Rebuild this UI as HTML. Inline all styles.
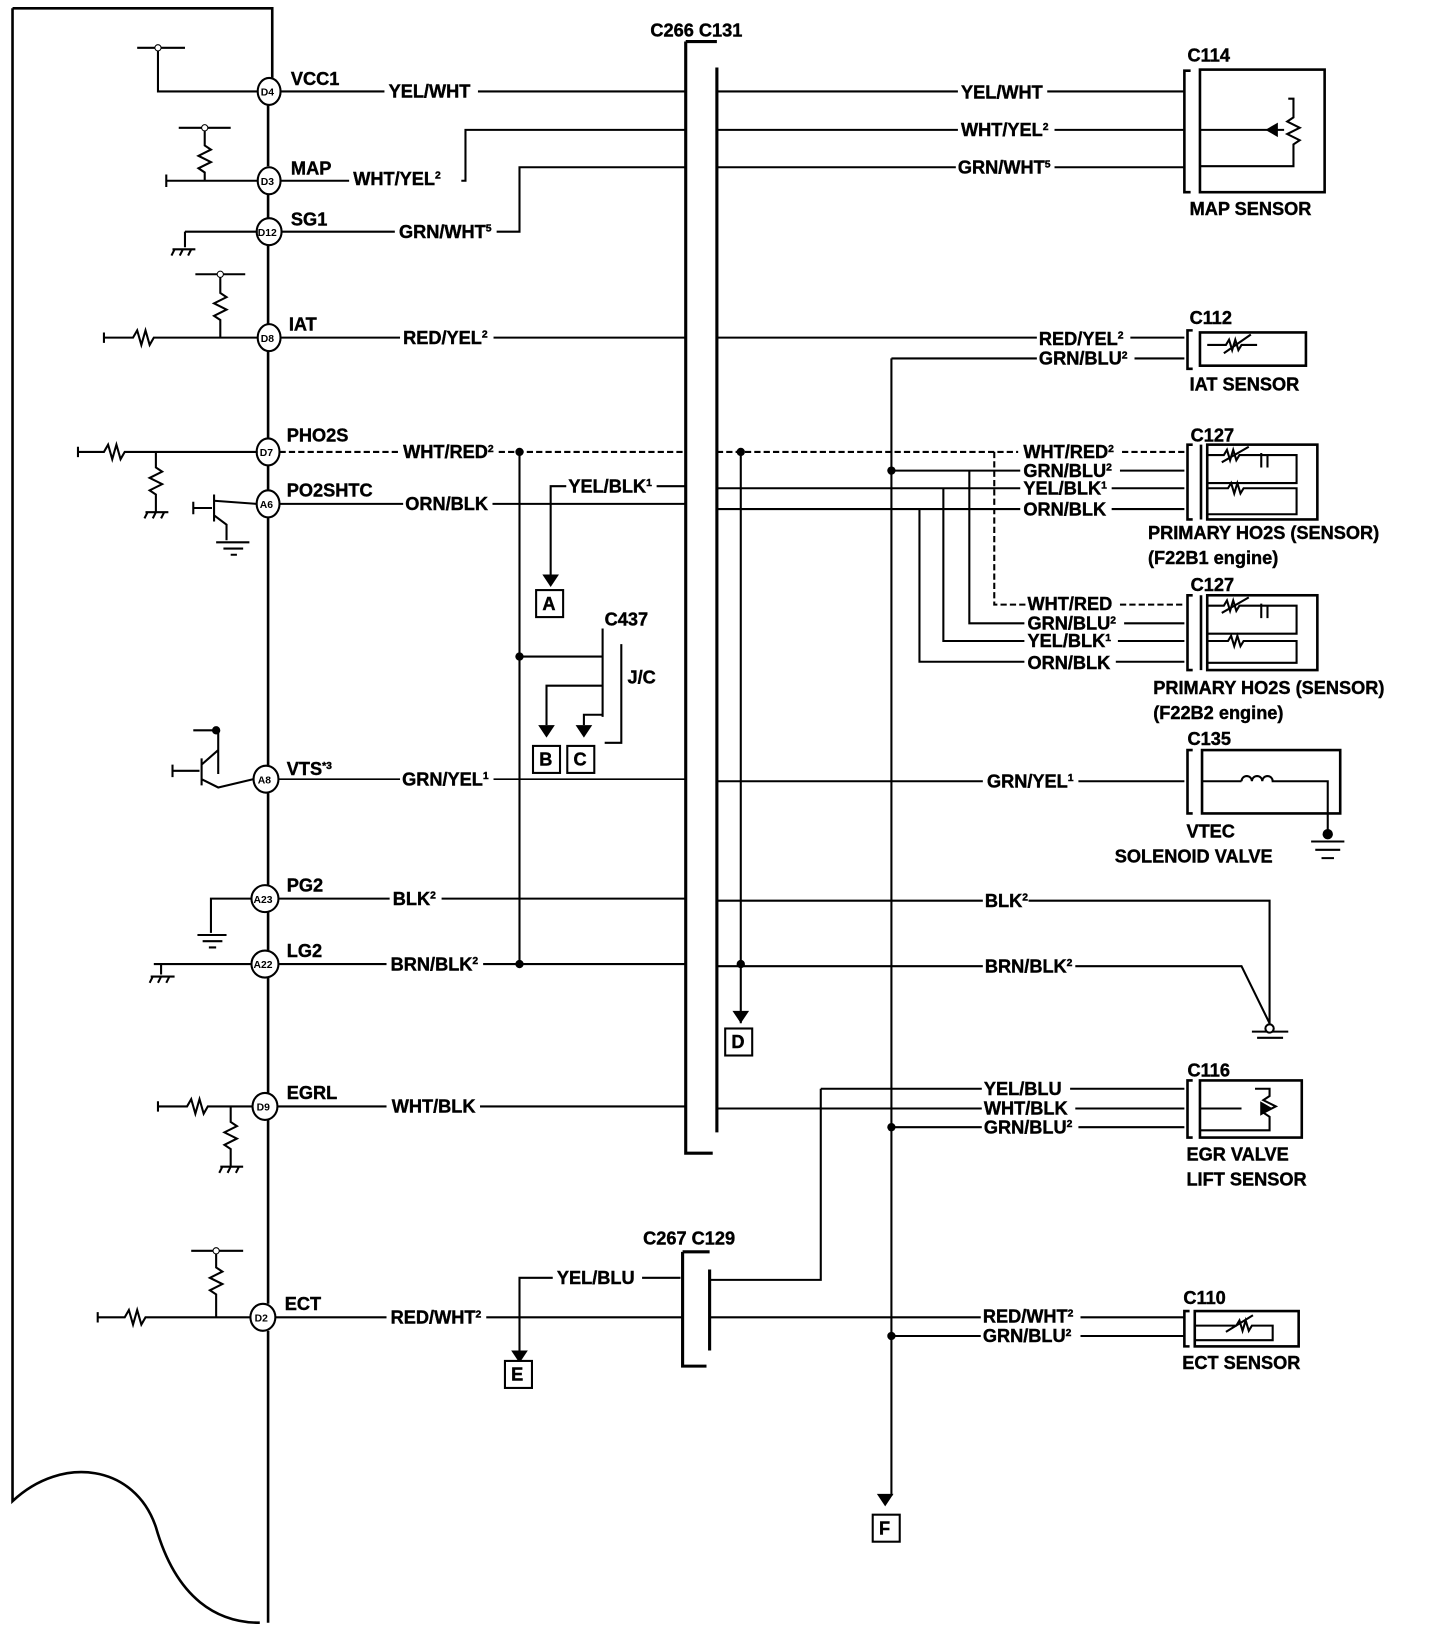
<!DOCTYPE html>
<html><head><meta charset="utf-8"><style>
html,body{margin:0;padding:0;background:#fff;}
svg{display:block;}
text{font-family:"Liberation Sans",sans-serif;font-weight:bold;font-size:17.5px;fill:#000;stroke:#000;stroke-width:0.4;}
.s{font-size:10px;}
.p{font-size:10px;font-weight:bold;stroke-width:0;}
</style></head><body>
<svg width="1440" height="1630" viewBox="0 0 1386 1569" xmlns="http://www.w3.org/2000/svg">
<g stroke="#000" fill="none" stroke-width="2">
<path d="M12 8 V1445 C60 1400 130 1410 150 1470 C170 1540 210 1562 250 1562" stroke-width="2.5"/>
<path d="M12 8 H262 V75 M258 101 V160 M258 187 V210 M258 236 V312 M258 338 V422 M258 448 V472 M258 498 V737 M258 763 V852 M258 878 V915 M258 941 V1052 M258 1078 V1255 M258 1281 V1562" stroke-width="2.5"/>
<g stroke-width="2">
<ellipse cx="259" cy="88" rx="11" ry="13"/><ellipse cx="259" cy="174" rx="11" ry="13"/><ellipse cx="259" cy="223" rx="12" ry="13"/>
<ellipse cx="259" cy="325" rx="11" ry="13"/><ellipse cx="258" cy="435" rx="11" ry="13"/><ellipse cx="258" cy="485" rx="11" ry="13"/>
<ellipse cx="256" cy="750" rx="12" ry="13"/><ellipse cx="255" cy="865" rx="13" ry="13"/><ellipse cx="255" cy="928" rx="13" ry="13"/>
<ellipse cx="255" cy="1065" rx="12" ry="13"/><ellipse cx="253" cy="1268" rx="12" ry="13"/>
</g>
<path d="M132 46 H178 M152 46 V88 H248"/>
<path d="M172 123 H222 M197 123 V140 l6 4 -12 6 12 6 -12 6 6 4 V174 M160 180 V168 M160 174 H248"/>
<path d="M178 223 H248 M178 223 V238 M166 240 H188 M168 240 l-3 6 M176 240 l-3 6 M184 240 l-3 6"/>
<path d="M188 264 H236 M212 264 V282 l6 4 -12 6 12 6 -12 6 6 4 V325 M100 320 V330 M100 325 H128 l4 -7 4 14 4 -14 4 14 4 -7 H248"/>
<path d="M75 430 V440 M75 435 H100 l4 -7 4 14 4 -14 4 14 4 -7 H248 M150 435 V450 l6 4 -12 6 12 6 -12 6 6 4 V492 M140 493 H162 M142 493 l-3 6 M150 493 l-3 6 M158 493 l-3 6"/>
<path d="M186 483 V495 M186 489 H204 M206 476 V502 M206 482 L247 485 M206 496 L218 505 V520 M208 522 H240 M215 528 H234 M222 534 H228"/>
<path d="M186 703 H210 V740 M210 722 V745 M166 736 V748 M166 742 H192 M194 730 V756 M194 736 L210 722 M194 750 L210 758 L244 750"/>
<path d="M242 865 H203 V898 M190 900 H218 M195 906 H214 M201 912 H208"/>
<path d="M148 928 H242 M155 928 V938 M145 940 H168 M147 940 l-3 6 M155 940 l-3 6 M163 940 l-3 6"/>
<path d="M152 1060 V1070 M152 1065 H180 l4 -7 4 14 4 -14 4 14 4 -7 H243 M222 1065 V1080 l6 4 -12 6 12 6 -12 6 6 4 V1122 M212 1123 H234 M214 1123 l-3 6 M222 1123 l-3 6 M230 1123 l-3 6"/>
<path d="M184 1204 H234 M208 1204 V1220 l6 4 -12 6 12 6 -12 6 6 4 V1268 M94 1263 V1273 M94 1268 H120 l4 -7 4 14 4 -14 4 14 4 -7 H241"/>
<path d="M660 40 H690 M660 40 V1110 H686 M690 65 V1090" stroke-width="3"/>
<path d="M270 88 H370 M460 88 H660"/>
<path d="M270 174 H336 M444 174 H448 V125 H660"/>
<path d="M271 223 H380 M478 223 H500 V161 H660"/>
<path d="M270 325 H385 M475 325 H660"/>
<path d="M269 435 H384 M480 435 H660 M690 435 H980" stroke-dasharray="6 3"/>
<path d="M269 485 H388 M474 485 H660"/>
<path d="M660 468 H632 M545 468 H530 V555"/>
<path d="M500 435 V928 M500 632 H580 M580 605 V690 M598 620 V715 H582 M580 660 H526 V698 M580 688 H562 V698" />
<path d="M268 750 H385 M475 750 H660" stroke-width="1.5"/>
<path d="M268 865 H375 M425 865 H660"/>
<path d="M268 928 H372 M465 928 H660"/>
<path d="M267 1065 H372 M462 1065 H660"/>
<path d="M265 1268 H372 M468 1268 H657"/>
<path d="M657 1205 H683 M657 1205 V1315 H680 M683 1222 V1300" stroke-width="3"/>
<path d="M655 1230 H618 M532 1230 H500 V1305"/>
<path d="M690 88 H922 M1008 88 H1140"/>
<path d="M690 125 H922 M1015 125 H1140"/>
<path d="M690 161 H920 M1015 161 H1140"/>
<path d="M690 325 H998 M1088 325 H1140"/>
<path d="M858 345 H998 M1092 345 H1140 M858 345 V1440"/>
<path d="M1080 435 H1140 M957 435 V582 H988 M1078 582 H1140" stroke-dasharray="6 3"/>
<path d="M713 435 V985 M858 453 H982 M1078 453 H1140 M690 470 H982 M1070 470 H1140 M690 490 H982 M1070 490 H1140"/>
<path d="M933 453 V600 H986 M1082 600 H1140 M908 470 V617 H986 M1076 617 H1140 M885 490 V637 H986 M1074 637 H1140"/>
<path d="M690 752 H946 M1038 752 H1140"/>
<path d="M690 867 H946 M990 867 H1222 V990"/>
<path d="M690 930 H946 M1035 930 H1195 L1222 985"/>
<path d="M1205 993 H1240 M1210 999 H1235"/>
<path d="M790 1048 H945 M1030 1048 H1140 M790 1048 V1232 H683"/>
<path d="M690 1067 H945 M1035 1067 H1140 M858 1085 H945 M1038 1085 H1140"/>
<path d="M683 1268 H944 M1040 1268 H1140 M858 1286 H944 M1040 1286 H1140"/>
<g stroke-width="2.5">
<path d="M1146 68 H1140 V185 H1146"/><rect x="1155" y="67" width="120" height="118"/>
<path d="M1148 318 H1143 V355 H1148"/><rect x="1155" y="320" width="102" height="32"/>
<path d="M1148 428 H1143 V500 H1148 M1156 428 V500"/><rect x="1162" y="428" width="106" height="72"/>
<path d="M1148 573 H1143 V645 H1148 M1156 573 V645"/><rect x="1162" y="573" width="106" height="72"/>
<path d="M1148 722 H1143 V783 H1148"/><rect x="1157" y="722" width="133" height="61"/>
<path d="M1148 1040 H1143 V1095 H1148"/><rect x="1155" y="1040" width="98" height="55"/>
<path d="M1145 1262 H1140 V1296 H1145"/><rect x="1150" y="1262" width="100" height="34"/>
</g>
<path d="M1155 125 H1210 M1240 95 H1245 V113 l-6 4 12 6 -12 6 12 6 -6 4 V160 H1155 M1210 125 H1236"/>
<path d="M1162 332 H1180 l3 -5 3 10 3 -10 3 10 3 -5 H1210 M1178 340 L1204 322"/>
<path d="M1162 438 H1178 l3 -5 3 10 3 -10 3 10 3 -5 H1220 V450 M1214 436 V450 M1220 438 H1248 V465 H1162 M1176 445 L1202 430 M1162 470 H1182 l3 -5 3 10 3 -10 3 10 3 -5 H1248 V495 H1162"/>
<path d="M1162 583 H1178 l3 -5 3 10 3 -10 3 10 3 -5 H1220 V595 M1214 581 V595 M1220 583 H1248 V610 H1162 M1176 590 L1202 575 M1162 617 H1182 l3 -5 3 10 3 -10 3 10 3 -5 H1248 V638 H1162"/>
<path d="M1157 752 H1195 M1195 752 a5 5 0 0 1 10 0 a5 5 0 0 1 10 0 a5 5 0 0 1 10 0 H1278 V803 M1262 810 H1294 M1266 818 H1290 M1272 826 H1284"/>
<path d="M1155 1067 H1195 M1208 1048 H1222 V1055 l-6 4 12 6 -12 6 6 4 V1088 H1155"/>
<path d="M1150 1276 H1190 l3 -5 3 10 3 -10 3 10 3 -5 H1225 V1290 H1150 M1180 1282 L1206 1266"/>
</g>
<g fill="#000">
<path d="M1218 125 l12 -7 v14 z"/><path d="M1225 1067 l-12 -7 v14 z"/>
<path d="M522 553 h16 l-8 12 z"/><path d="M518 698 h16 l-8 12 z"/><path d="M554 698 h16 l-8 12 z"/>
<path d="M705 973 h16 l-8 12 z"/><path d="M492 1300 h16 l-8 12 z"/><path d="M844 1438 h16 l-8 12 z"/>
<circle cx="500" cy="435" r="4"/><circle cx="713" cy="435" r="4"/><circle cx="500" cy="632" r="4"/>
<circle cx="500" cy="928" r="4"/><circle cx="713" cy="928" r="4"/><circle cx="858" cy="453" r="4"/>
<circle cx="858" cy="1085" r="4"/><circle cx="858" cy="1286" r="4"/>
<circle cx="152" cy="46" r="3" fill="#fff" stroke="#000"/><circle cx="197" cy="123" r="3" fill="#fff" stroke="#000"/>
<circle cx="212" cy="264" r="3" fill="#fff" stroke="#000"/><circle cx="208" cy="1204" r="3" fill="#fff" stroke="#000"/>
<circle cx="208" cy="703" r="4"/><circle cx="1278" cy="803" r="5"/>
<circle cx="1222" cy="990" r="4" fill="#fff" stroke="#000" stroke-width="2"/>
</g>
<g fill="#fff" stroke="#000" stroke-width="2">
<rect x="516" y="568" width="26" height="26"/><rect x="513" y="718" width="26" height="26"/><rect x="546" y="718" width="26" height="26"/>
<rect x="698" y="990" width="26" height="26"/><rect x="486" y="1310" width="26" height="26"/><rect x="840" y="1458" width="26" height="26"/>
</g>
<g>
<text class="p" x="251" y="92">D4</text><text class="p" x="251" y="178">D3</text><text class="p" x="248" y="227">D12</text>
<text class="p" x="251" y="329">D8</text><text class="p" x="250" y="439">D7</text><text class="p" x="250" y="489">A6</text>
<text class="p" x="248" y="754">A8</text><text class="p" x="244" y="869">A23</text><text class="p" x="244" y="932">A22</text>
<text class="p" x="247" y="1069">D9</text><text class="p" x="245" y="1272">D2</text>
<text x="280" y="82">VCC1</text><text x="280" y="168">MAP</text><text x="280" y="217">SG1</text><text x="278" y="318">IAT</text>
<text x="276" y="425">PHO2S</text><text x="276" y="478">PO2SHTC</text><text x="276" y="746">VTS<tspan class="s" dy="-6">*3</tspan></text>
<text x="276" y="858">PG2</text><text x="276" y="921">LG2</text><text x="276" y="1058">EGRL</text><text x="274" y="1261">ECT</text>
<text x="374" y="94">YEL/WHT</text><text x="340" y="178">WHT/YEL<tspan class="s" dy="-6">2</tspan></text>
<text x="384" y="229">GRN/WHT<tspan class="s" dy="-6">5</tspan></text><text x="388" y="331">RED/YEL<tspan class="s" dy="-6">2</tspan></text>
<text x="388" y="441">WHT/RED<tspan class="s" dy="-6">2</tspan></text><text x="390" y="491">ORN/BLK</text>
<text x="547" y="474">YEL/BLK<tspan class="s" dy="-6">1</tspan></text>
<text x="582" y="602">C437</text><text x="604" y="658">J/C</text>
<text x="387" y="756">GRN/YEL<tspan class="s" dy="-6">1</tspan></text><text x="378" y="871">BLK<tspan class="s" dy="-6">2</tspan></text>
<text x="376" y="934">BRN/BLK<tspan class="s" dy="-6">2</tspan></text><text x="377" y="1071">WHT/BLK</text>
<text x="376" y="1274">RED/WHT<tspan class="s" dy="-6">2</tspan></text><text x="536" y="1236">YEL/BLU</text>
<text x="626" y="35">C266  C131</text><text x="619" y="1198">C267  C129</text>
<text x="522" y="587">A</text><text x="519" y="737">B</text><text x="552" y="737">C</text>
<text x="704" y="1009">D</text><text x="492" y="1329">E</text><text x="846" y="1477">F</text>
<text x="925" y="95">YEL/WHT</text><text x="925" y="131">WHT/YEL<tspan class="s" dy="-6">2</tspan></text>
<text x="922" y="167">GRN/WHT<tspan class="s" dy="-6">5</tspan></text>
<text x="1143" y="59">C114</text><text x="1145" y="207">MAP SENSOR</text>
<text x="1000" y="332">RED/YEL<tspan class="s" dy="-6">2</tspan></text><text x="1000" y="351">GRN/BLU<tspan class="s" dy="-6">2</tspan></text>
<text x="1145" y="312">C112</text><text x="1145" y="376">IAT SENSOR</text>
<text x="985" y="441">WHT/RED<tspan class="s" dy="-6">2</tspan></text><text x="985" y="459">GRN/BLU<tspan class="s" dy="-6">2</tspan></text>
<text x="985" y="476">YEL/BLK<tspan class="s" dy="-6">1</tspan></text><text x="985" y="496">ORN/BLK</text>
<text x="1146" y="425">C127</text><text x="1105" y="519">PRIMARY HO2S (SENSOR)</text><text x="1105" y="543">(F22B1 engine)</text>
<text x="989" y="587">WHT/RED</text><text x="989" y="606">GRN/BLU<tspan class="s" dy="-6">2</tspan></text>
<text x="989" y="623">YEL/BLK<tspan class="s" dy="-6">1</tspan></text><text x="989" y="644">ORN/BLK</text>
<text x="1146" y="569">C127</text><text x="1110" y="668">PRIMARY HO2S (SENSOR)</text><text x="1110" y="692">(F22B2 engine)</text>
<text x="950" y="758">GRN/YEL<tspan class="s" dy="-6">1</tspan></text>
<text x="1143" y="717">C135</text><text x="1142" y="806">VTEC</text><text x="1073" y="830">SOLENOID VALVE</text>
<text x="948" y="873">BLK<tspan class="s" dy="-6">2</tspan></text><text x="948" y="936">BRN/BLK<tspan class="s" dy="-6">2</tspan></text>
<text x="947" y="1054">YEL/BLU</text><text x="947" y="1073">WHT/BLK</text><text x="947" y="1091">GRN/BLU<tspan class="s" dy="-6">2</tspan></text>
<text x="1143" y="1036">C116</text><text x="1142" y="1117">EGR VALVE</text><text x="1142" y="1141">LIFT SENSOR</text>
<text x="946" y="1273">RED/WHT<tspan class="s" dy="-6">2</tspan></text><text x="946" y="1292">GRN/BLU<tspan class="s" dy="-6">2</tspan></text>
<text x="1139" y="1255">C110</text><text x="1138" y="1318">ECT SENSOR</text>
</g>
</svg>
</body></html>
